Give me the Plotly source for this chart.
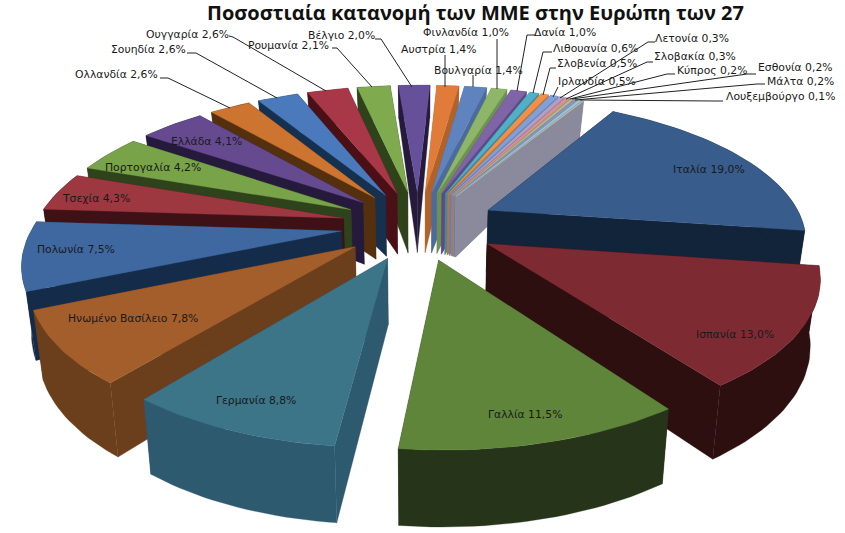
import numpy as np
import plotly.graph_objects as go

countries = ["Ιταλία","Ισπανία","Γαλλία","Γερμανία","Ηνωμένο Βασίλειο","Πολωνία","Τσεχία","Πορτογαλία","Ελλάδα",
             "Ολλανδία","Σουηδία","Ουγγαρία","Ρουμανία","Βέλγιο","Αυστρία","Βουλγαρία","Φινλανδία","Δανία",
             "Λιθουανία","Σλοβενία","Ιρλανδία","Λετονία","Σλοβακία","Κύπρος","Εσθονία","Μάλτα","Λουξεμβούργο"]
shares = [19.0,13.0,11.5,8.8,7.8,7.5,4.3,4.2,4.1,2.6,2.6,2.6,2.1,2.0,1.4,1.4,1.0,1.0,0.6,0.5,0.5,0.3,0.3,0.2,0.2,0.2,0.1]
top_colors = ["#385C8C","#7E2A33","#5F853A","#3C7488","#A45E2B","#3F68A0","#9D3740","#78A348","#664A90",
              "#CC7430","#4A7ABB","#A83848","#7FAA4E","#67509A","#E07B39","#5F83BE","#8DB668","#7F65A8",
              "#4FB0C6","#F0904A","#7FA0D8","#B0A0C8","#D89090","#A8C088","#9C8CC0","#90C8D8","#C8C8A8"]
wall_colors = ["#12243A","#2E0F10","#26341A","#2E5A70","#6B3E1C","#142C4A","#3E1116","#2E421C","#261A3C",
               "#55300F","#163050","#4A1015","#2E421C","#261A3C","#B0622A","#4C6A9C","#6E9050","#5F4A85",
               "#3F8C9E","#C0733A","#6680AC","#8C80A0","#AC7373","#86996C","#7C7099","#73A0AC","#8A8A9C"]

# placement of labels: centre x, centre y, in page pixels
label_pos = [(709,169),(735,334),(525,414),(256,400),(133,318),(76,249),(96,198),(153,167),(206,141),
             (116,74),(148,49),(187,34),(288,45),(341,35),(438,49),(478,70),(466,32),(565,32),
             (595,48),(597,63),(597,81),(692,38),(695,56),(712,70),(795,67),(800,81),(780,96)]
leaders = [[(160,78),(168,78),(230,108)],[(187,53),(196,53),(277,98)],[(229,36),(233,37),(326,91)],
           [(332,48),(337,48),(372,87)],[(375,39),(381,39),(412,87)],[(445,55),(445,87)],[(473,75),(473,87)],
           [(497,39),(497,89)],[(535,35),(527,35),(517,91)],[(552,52),(543,52),(533,93)],
           [(556,68),(550,68),(543,95)],[(558,87),(553,97)],[(655,42),(648,42),(560,98)],
           [(653,62),(647,62),(566,99)],[(675,74),(667,74),(570,99)],[(756,74),(747,74),(572,99)],
           [(765,84),(757,84),(575,100)],[(723,101),(715,101),(580,100)]]

TITLE = "Ποσοστιαία κατανομή των ΜΜΕ στην Ευρώπη των 27"

# projection of the tilted pie
START, EXPLODE = 28.0, 0.25
CX, F, K, A, HY = 419.0, 312.0, 0.19, 729.0, -504.0
SHEAR, ROLL, SIDE = 11.0, 0.015, 0.015

def project(u, v):
    s = 1.0 / (1.0 + K * v)
    x = CX + F * u * (1.0 + SIDE * u) * s + SHEAR * v
    y = HY + A * s + ROLL * (x - CX)
    return x, y

def drop(x, y, v):
    d = np.interp(v, [-1.25, -0.3, 0.3, 1.25], [77, 67, 60, 33])
    return CX + (x - CX) * 0.975, y + d

total = sum(shares)
edges = START + np.concatenate([[0], np.cumsum(shares)]) / total * 360.0
slices = []
for i in range(len(shares)):
    a0, a1 = np.radians(edges[i]), np.radians(edges[i + 1])
    mid = (a0 + a1) / 2
    ou, ov = EXPLODE * np.sin(mid), EXPLODE * np.cos(mid)
    t = np.linspace(a0, a1, max(4, int((a1 - a0) * 40)))
    arcu, arcv = ou + np.sin(t), ov + np.cos(t)
    slices.append((ov, i, ou, ov, arcu, arcv))

fig = go.Figure()
def poly(xs, ys, color):
    fig.add_trace(go.Scatter(x=list(xs) + [xs[0]], y=list(ys) + [ys[0]], mode="lines", fill="toself",
                             fillcolor=color, line=dict(color=color, width=0.3),
                             hoverinfo="skip", showlegend=False))

for _, i, ou, ov, arcu, arcv in sorted(slices, key=lambda r: -r[0]):
    ax, ay = project(ou, ov)
    bx, by = drop(ax, ay, ov)
    tx, ty = project(arcu, arcv)
    dx, dy = drop(tx, ty, arcv)
    wall = wall_colors[i]
    poly([ax, tx[0], dx[0], bx], [ay, ty[0], dy[0], by], wall)
    poly([ax, tx[-1], dx[-1], bx], [ay, ty[-1], dy[-1], by], wall)
    poly(np.r_[tx, dx[::-1]], np.r_[ty, dy[::-1]], wall)
    poly(np.r_[ax, tx], np.r_[ay, ty], top_colors[i])

shapes = []
for path in leaders:
    for p, q in zip(path[:-1], path[1:]):
        shapes.append(dict(type="line", xref="x", yref="y", x0=p[0], y0=p[1], x1=q[0], y1=q[1],
                           line=dict(color="#222222", width=1), layer="above"))

annotations = [dict(x=p[0], y=p[1], xref="x", yref="y", showarrow=False,
                    text=f"{n} {v:.1f}%".replace(".", ","), font=dict(family="DejaVu Sans", size=10.8, color="#1a1a1a"))
               for n, v, p in zip(countries, shares, label_pos)]
annotations.append(dict(x=475, y=12, xref="x", yref="y", showarrow=False, text=f"<b>{TITLE}</b>",
                        font=dict(family="Open Sans", size=20, color="#111111")))

fig.update_layout(width=845, height=533, margin=dict(l=0, r=0, t=0, b=0), paper_bgcolor="white", plot_bgcolor="white",
                  xaxis=dict(range=[0, 845], visible=False, fixedrange=True),
                  yaxis=dict(range=[533, 0], visible=False, fixedrange=True),
                  shapes=shapes, annotations=annotations, showlegend=False)
fig.write_html("out.html", config={"displayModeBar": False},
               post_script="document.body.style.margin='0';")
